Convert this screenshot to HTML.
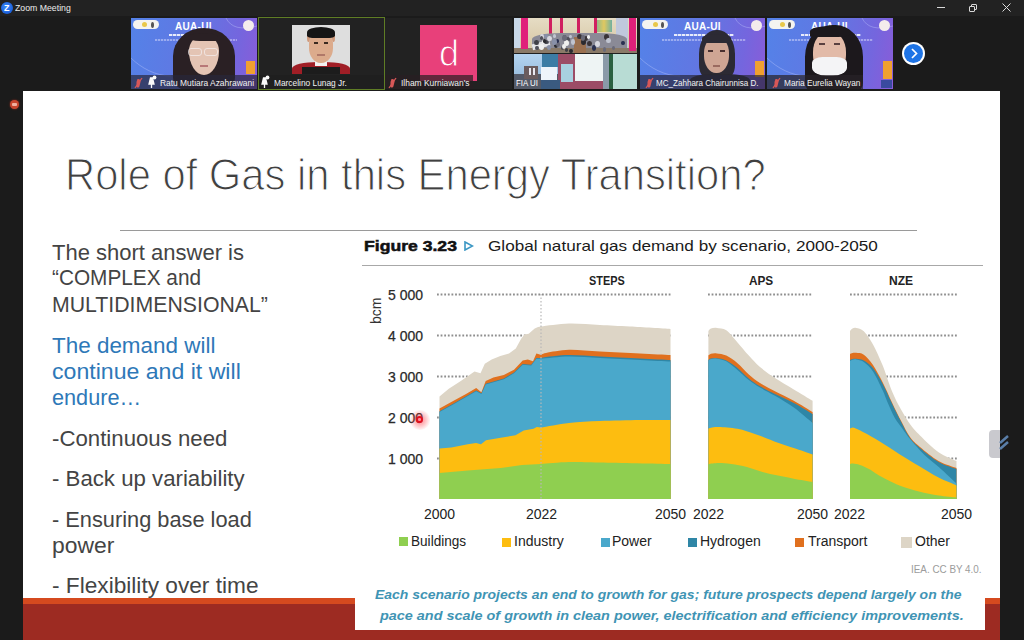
<!DOCTYPE html>
<html><head><meta charset="utf-8">
<style>
*{margin:0;padding:0;box-sizing:border-box}
html,body{width:1024px;height:640px;overflow:hidden;background:#1b1b1b;font-family:"Liberation Sans",sans-serif;position:relative}
.a{position:absolute}
.t{position:absolute;white-space:nowrap;line-height:1}
.sx{transform-origin:0 0}
.tile{position:absolute;overflow:hidden}
.aua{background:linear-gradient(100deg,#5482e8 0%,#6276e2 50%,#7466de 80%,#8a5cd8 100%)}
.nb{position:absolute;left:0;bottom:0;height:14px;background:rgba(30,30,40,0.62)}
.nm{position:absolute;top:2px;font-size:9.6px;color:#f2f2f2;white-space:nowrap;line-height:1}
</style></head>
<body>
<!-- title bar -->
<div class="a" style="left:0;top:0;width:1024px;height:16px;background:#222222"></div>
<div class="a" style="left:1px;top:2px;width:12px;height:12px;border-radius:50%;background:radial-gradient(circle at 45% 40%,#3c8cff,#1b5fd8 70%,#123e9a)"></div>
<div class="t" style="left:4px;top:3.5px;font-size:9px;font-weight:bold;color:#fff">Z</div>
<div class="t" style="left:14.5px;top:3.8px;font-size:9.2px;color:#ececec;transform:scaleX(0.95);transform-origin:0 0">Zoom Meeting</div>
<div class="a" style="left:937px;top:7px;width:8px;height:1px;background:#d8d8d8"></div>
<div class="a" style="left:971px;top:4px;width:6px;height:6px;border:1px solid #d8d8d8;border-radius:1px"></div>
<div class="a" style="left:969px;top:6px;width:6px;height:6px;border:1px solid #d8d8d8;border-radius:1px;background:#222"></div>
<svg class="a" style="left:1002px;top:3px" width="9" height="9"><path d="M0.5,0.5 L8.5,8.5 M8.5,0.5 L0.5,8.5" stroke="#dcdcdc" stroke-width="1"/></svg>

<!-- video strip -->
<div class="a" style="left:0;top:16px;width:1024px;height:75px;background:#1b1b1b"></div>

<!-- tile 1 Ratu -->
<div class="tile aua" style="left:131px;top:18px;width:126px;height:71px">
  <svg class="a" style="left:0;top:0" width="126" height="71"><path d="M0,40 C10,50 25,58 40,58" stroke="rgba(200,210,255,0.35)" fill="none" stroke-width="1"/><path d="M95,0 C100,10 110,12 126,8" stroke="rgba(200,210,255,0.35)" fill="none" stroke-width="1"/></svg>
  <div class="a" style="left:2px;top:2px;width:26px;height:9px;border-radius:5px;background:#f4f4f0"></div>
  <div class="a" style="left:11px;top:4px;width:5px;height:5px;border-radius:50%;background:#e8c84a"></div>
  <div class="a" style="left:20px;top:3.5px;width:3px;height:6px;border-radius:50%;background:#555"></div>
  <div class="a" style="left:112px;top:2px;width:11px;height:11px;border-radius:50%;background:#f4ecec"></div>
  <div class="t" style="left:44px;top:4px;font-size:10px;font-weight:bold;color:#fff;letter-spacing:0.3px">AUA-UI</div>
  <div class="a" style="left:38px;top:16px;width:50px;height:2px;background:repeating-linear-gradient(90deg,rgba(255,255,255,0.85) 0 3px,rgba(255,255,255,0.3) 3px 4px)"></div>
  <div class="a" style="left:24px;top:21px;width:82px;height:2px;background:repeating-linear-gradient(90deg,rgba(230,230,255,0.45) 0 2px,rgba(230,230,255,0.1) 2px 3px)"></div>
  <div class="a" style="left:115px;top:43px;width:9px;height:13px;background:#f0a030"></div>
  <div class="a" style="left:42px;top:10px;width:62px;height:62px;border-radius:50% 50% 22% 22% / 45% 45% 20% 20%;background:#2a2024"></div>
  <div class="a" style="left:58px;top:17px;width:30px;height:40px;border-radius:48% 48% 50% 50% / 40% 40% 60% 60%;background:#e4c4b4"></div>
  <div class="a" style="left:57px;top:15px;width:30px;height:8px;border-radius:50% 50% 10% 40%;background:#2a2024"></div>
  <div class="a" style="left:57px;top:30px;width:14px;height:8px;border-radius:3px;border:1px solid rgba(245,240,240,0.7)"></div>
  <div class="a" style="left:73px;top:30px;width:14px;height:8px;border-radius:3px;border:1px solid rgba(245,240,240,0.7)"></div>
  <div class="a" style="left:69px;top:47px;width:8px;height:2px;background:#b87878"></div>
  <div class="nb" style="width:126px;background:rgba(40,38,58,0.7)"></div>
  <svg class="a" style="left:0;top:57px" width="30" height="15"><path d="M6.5,4 C8.5,3.5 10,5 9.5,7 L8.5,11 C8,13 5.5,13 5.5,11 L5.5,7 Z" fill="#d85858"/><path d="M4,13 L11,3" stroke="#d85858" stroke-width="1.3"/><path d="M19.5,3 L21.5,3 L23,9 L18,9 Z M20.5,9 L20.5,13" fill="#fafafa" stroke="#fafafa" stroke-width="1.3"/><circle cx="23.5" cy="2.5" r="1.9" fill="#fafafa"/></svg>
  <div class="nm" style="transform:scaleX(0.877);transform-origin:0 0;left:29px;top:60px">Ratu Mutiara Azahrawani</div>
</div>

<!-- tile 2 Marcelino -->
<div class="tile" style="left:258px;top:17px;width:127px;height:73px;border:1.5px solid #5f7d25;background:#222"></div>
<div class="tile" style="left:292px;top:25px;width:58px;height:49px;background:#dedede">
  <div class="a" style="left:0;top:37px;width:58px;height:14px;border-radius:45% 45% 0 0;background:#a01e26"></div>
  <div class="a" style="left:10px;top:42px;width:38px;height:8px;background:#1c1c1c"></div>
  <div class="a" style="left:23px;top:35px;width:12px;height:6px;background:#f2f2f2"></div>
  <div class="a" style="left:15px;top:9px;width:3px;height:8px;border-radius:50%;background:#cf9a7c"></div>
  <div class="a" style="left:40px;top:9px;width:3px;height:8px;border-radius:50%;background:#cf9a7c"></div>
  <div class="a" style="left:17px;top:6px;width:24px;height:32px;border-radius:42% 42% 48% 48%;background:#dcab8c"></div>
  <div class="a" style="left:15px;top:2px;width:28px;height:11px;border-radius:50% 50% 20% 20%;background:#151515"></div>
  <div class="a" style="left:22px;top:17px;width:4px;height:1.5px;background:#3a2a20"></div>
  <div class="a" style="left:32px;top:17px;width:4px;height:1.5px;background:#3a2a20"></div>
  <div class="a" style="left:25px;top:29px;width:8px;height:1.5px;background:#b07868"></div>
</div>
<div class="a" style="left:259px;top:75px;width:125px;height:14px;background:rgba(30,30,30,0.55)"></div>
<svg class="a" style="left:244px;top:75px" width="30" height="15"><path d="M19.5,3 L21.5,3 L23,9 L18,9 Z M20.5,9 L20.5,13" fill="#fafafa" stroke="#fafafa" stroke-width="1.3"/><circle cx="23.5" cy="2.5" r="1.9" fill="#fafafa"/></svg>
<div class="nm" style="transform:scaleX(0.87);transform-origin:0 0;left:274px;top:78px">Marcelino Lunag Jr.</div>

<!-- tile 3 Ilham -->
<div class="tile" style="left:385px;top:18px;width:127px;height:71px;background:#222"></div>
<div class="a" style="left:420px;top:25px;width:57px;height:56px;background:#e8407a"></div>
<div class="t" style="left:439px;top:35.5px;font-size:36px;color:#fff;-webkit-text-stroke:0.9px #e8407a">d</div>
<div class="a" style="left:385px;top:75px;width:88px;height:14px;background:rgba(40,30,34,0.7)"></div>
<svg class="a" style="left:385px;top:75px" width="14" height="15"><path d="M6.5,4 C8.5,3.5 10,5 9.5,7 L8.5,11 C8,13 5.5,13 5.5,11 L5.5,7 Z" fill="#d85858"/><path d="M4,13 L11,3" stroke="#d85858" stroke-width="1.3"/></svg>
<div class="nm" style="transform:scaleX(0.877);transform-origin:0 0;left:401px;top:78px">Ilham Kurniawan's</div>

<!-- tile 4 FIA UI -->
  <div class="tile" style="left:514px;top:18px;width:123px;height:71px;background:#202020">
  <div class="a" style="left:0;top:0;width:123px;height:35px;background:linear-gradient(#e6dcc4,#d4c4a0)"></div>
  <div class="a" style="left:0;top:0;width:6px;height:35px;background:#c8d8e8"></div>
  <div class="a" style="left:82px;top:2px;width:16px;height:12px;background:linear-gradient(90deg,#8ab890,#e0c860,#70b0a0)"></div>
  <div class="a" style="left:102px;top:0;width:12px;height:32px;background:#c0c8dc"></div>
  <div class="a" style="left:35px;top:0;width:3px;height:18px;background:#d02060"></div>
  <div class="a" style="left:46px;top:0;width:3px;height:18px;background:#d02060"></div>
  <div class="a" style="left:63px;top:0;width:3px;height:18px;background:#d02060"></div>
  <div class="a" style="left:80px;top:0;width:3px;height:18px;background:#d02060"></div>
  <div class="a" style="left:18px;top:15px;width:95px;height:20px;border-radius:30% 30% 0 0;background:#8a8a96"></div>
  <div class="a" style="left:0px;top:30px;width:123px;height:5px;background:#8a7a68"></div>
  <div class="a" style="left:7px;top:0;width:7px;height:31px;background:#e0207a"></div>
  <div class="a" style="left:115px;top:0;width:7px;height:33px;background:#e0207a"></div>
  <div class="a" style="left:18px;top:24px;width:18px;height:6px;background:#e4e4e8;transform:rotate(-15deg)"></div>
  <div class="a" style="left:60px;top:19px;width:12px;height:16px;background:#9a7050"></div>
  <div class="a" style="left:48.5px;top:17.4px;width:3.1px;height:3.8px;border-radius:50%;background:#2a2a30"></div>
  <div class="a" style="left:67.2px;top:20.9px;width:4.8px;height:5.8px;border-radius:50%;background:#2a2a30"></div>
  <div class="a" style="left:38.9px;top:16.4px;width:3.1px;height:3.8px;border-radius:50%;background:#c0c4d0"></div>
  <div class="a" style="left:28.0px;top:21.8px;width:3.2px;height:3.9px;border-radius:50%;background:#f0f0f0"></div>
  <div class="a" style="left:39.6px;top:25.0px;width:4.2px;height:5.0px;border-radius:50%;background:#2a2a30"></div>
  <div class="a" style="left:54.9px;top:30.6px;width:4.1px;height:4.9px;border-radius:50%;background:#2a2a30"></div>
  <div class="a" style="left:31.7px;top:21.7px;width:3.2px;height:3.9px;border-radius:50%;background:#6a6a78"></div>
  <div class="a" style="left:47.1px;top:28.1px;width:3.2px;height:3.8px;border-radius:50%;background:#50505a"></div>
  <div class="a" style="left:70.3px;top:18.0px;width:4.1px;height:4.9px;border-radius:50%;background:#3a3438"></div>
  <div class="a" style="left:25.5px;top:16.0px;width:4.0px;height:4.8px;border-radius:50%;background:#d8d8e0"></div>
  <div class="a" style="left:51.8px;top:19.0px;width:4.4px;height:5.3px;border-radius:50%;background:#50505a"></div>
  <div class="a" style="left:41.5px;top:24.2px;width:4.0px;height:4.8px;border-radius:50%;background:#6a6a78"></div>
  <div class="a" style="left:50.2px;top:22.2px;width:5.0px;height:6.0px;border-radius:50%;background:#f0f0f0"></div>
  <div class="a" style="left:30.4px;top:21.7px;width:3.3px;height:4.0px;border-radius:50%;background:#404048"></div>
  <div class="a" style="left:63.0px;top:15.6px;width:4.5px;height:5.4px;border-radius:50%;background:#3a3438"></div>
  <div class="a" style="left:47.6px;top:26.1px;width:4.0px;height:4.8px;border-radius:50%;background:#f0f0f0"></div>
  <div class="a" style="left:90.1px;top:16.1px;width:4.9px;height:5.9px;border-radius:50%;background:#3a3438"></div>
  <div class="a" style="left:25.3px;top:26.2px;width:5.0px;height:6.0px;border-radius:50%;background:#f0f0f0"></div>
  <div class="a" style="left:92.3px;top:19.6px;width:4.8px;height:5.7px;border-radius:50%;background:#c0c4d0"></div>
  <div class="a" style="left:50.5px;top:30.1px;width:3.3px;height:4.0px;border-radius:50%;background:#404048"></div>
  <div class="a" style="left:30.3px;top:15.9px;width:3.3px;height:3.9px;border-radius:50%;background:#8890a8"></div>
  <div class="a" style="left:41.8px;top:21.3px;width:3.2px;height:3.8px;border-radius:50%;background:#2a3050"></div>
  <div class="a" style="left:97.7px;top:28.1px;width:3.6px;height:4.3px;border-radius:50%;background:#6a6a78"></div>
  <div class="a" style="left:56.5px;top:20.7px;width:4.9px;height:5.9px;border-radius:50%;background:#c0c4d0"></div>
  <div class="a" style="left:33.3px;top:17.8px;width:4.3px;height:5.2px;border-radius:50%;background:#d8d8e0"></div>
  <div class="a" style="left:21.1px;top:28.3px;width:3.5px;height:4.2px;border-radius:50%;background:#50505a"></div>
  <div class="a" style="left:20.4px;top:21.7px;width:4.2px;height:5.1px;border-radius:50%;background:#404048"></div>
  <div class="a" style="left:48.0px;top:17.0px;width:4.9px;height:5.9px;border-radius:50%;background:#6a6a78"></div>
  <div class="a" style="left:77.6px;top:26.8px;width:4.8px;height:5.8px;border-radius:50%;background:#2a3050"></div>
  <div class="a" style="left:88.6px;top:29.0px;width:3.8px;height:4.5px;border-radius:50%;background:#6a6a78"></div>
  <div class="a" style="left:55.1px;top:16.7px;width:3.1px;height:3.7px;border-radius:50%;background:#c0c4d0"></div>
  <div class="a" style="left:25.9px;top:18.3px;width:3.2px;height:3.9px;border-radius:50%;background:#50505a"></div>
  <div class="a" style="left:72.9px;top:16.6px;width:3.3px;height:4.0px;border-radius:50%;background:#f0f0f0"></div>
  <div class="a" style="left:28.9px;top:20.8px;width:3.1px;height:3.8px;border-radius:50%;background:#2a2a30"></div>
  <div class="a" style="left:38.3px;top:21.0px;width:4.9px;height:5.9px;border-radius:50%;background:#8890a8"></div>
  <div class="a" style="left:73.0px;top:22.6px;width:4.7px;height:5.6px;border-radius:50%;background:#3a3438"></div>
  <div class="a" style="left:107.4px;top:22.5px;width:3.6px;height:4.3px;border-radius:50%;background:#2a3050"></div>
  <div class="a" style="left:32.7px;top:27.0px;width:4.0px;height:4.7px;border-radius:50%;background:#8890a8"></div>
  <div class="a" style="left:80.9px;top:23.3px;width:4.9px;height:5.9px;border-radius:50%;background:#d8d8e0"></div>
  <div class="a" style="left:66.5px;top:17.3px;width:4.8px;height:5.8px;border-radius:50%;background:#6a6a78"></div>
  <div class="a" style="left:0;top:36px;width:123px;height:35px;background:#9c4c66"></div>
  <div class="a" style="left:0;top:36px;width:44px;height:21px;background:linear-gradient(#b4d4f0,#9cc0e0)"></div>
  <div class="a" style="left:28px;top:36px;width:16px;height:13px;background:#3c7ca4"></div>
  <div class="a" style="left:0;top:56px;width:44px;height:15px;background:#545a68"></div>
  <div class="a" style="left:10px;top:48px;width:14px;height:13px;background:#6a5c5e"></div>
  <div class="a" style="left:15px;top:50px;width:2px;height:7px;background:#e8e8f0"></div>
  <div class="a" style="left:19px;top:50px;width:2px;height:7px;background:#e8e8f0"></div>
  <div class="a" style="left:27px;top:49px;width:16px;height:13px;background:#eef4fa"></div>
  <div class="a" style="left:27px;top:62px;width:19px;height:9px;background:#3a5a80"></div>
  <div class="a" style="left:47px;top:46px;width:12px;height:18px;background:#a8d0e0"></div>
  <div class="a" style="left:61px;top:36px;width:28px;height:27px;background:#eef4f4"></div>
  <div class="a" style="left:89px;top:36px;width:14px;height:35px;background:#8a9aa8"></div>
  <div class="a" style="left:98px;top:36px;width:25px;height:35px;background:#b8dcd4"></div>
  <div class="a" style="left:95px;top:36px;width:4px;height:35px;background:#2a6040"></div>
  <div class="nm" style="transform:scaleX(0.82);transform-origin:0 0;left:2px;top:60px;color:#fff">FIA UI</div>
</div>

<!-- tile 5 Zahhara -->
<div class="tile aua" style="left:640px;top:18px;width:125px;height:71px">
  <svg class="a" style="left:0;top:0" width="126" height="71"><path d="M0,40 C10,50 25,58 40,58" stroke="rgba(200,210,255,0.35)" fill="none" stroke-width="1"/><path d="M95,0 C100,10 110,12 126,8" stroke="rgba(200,210,255,0.35)" fill="none" stroke-width="1"/></svg>
  <div class="a" style="left:2px;top:2px;width:26px;height:9px;border-radius:5px;background:#f4f4f0"></div>
  <div class="a" style="left:13px;top:4px;width:5px;height:5px;border-radius:50%;background:#e8c84a"></div>
  <div class="a" style="left:21px;top:3.5px;width:3px;height:6px;border-radius:50%;background:#555"></div>
  <div class="a" style="left:111px;top:2px;width:11px;height:11px;border-radius:50%;background:#f4ecec"></div>
  <div class="t" style="left:44px;top:4px;font-size:10px;font-weight:bold;color:#fff;letter-spacing:0.3px">AUA-UI</div>
  <div class="a" style="left:34px;top:16px;width:60px;height:2px;background:repeating-linear-gradient(90deg,rgba(255,255,255,0.85) 0 3px,rgba(255,255,255,0.3) 3px 4px)"></div>
  <div class="a" style="left:22px;top:21px;width:84px;height:2px;background:repeating-linear-gradient(90deg,rgba(230,230,255,0.45) 0 2px,rgba(230,230,255,0.1) 2px 3px)"></div>
  <div class="a" style="left:115px;top:43px;width:9px;height:16px;background:#f0a030"></div>
  <div class="a" style="left:59px;top:12px;width:36px;height:50px;border-radius:48% 48% 30% 30%;background:#2c2a34"></div>
  <div class="a" style="left:64px;top:19px;width:25px;height:36px;border-radius:45% 45% 48% 48%;background:#cfa594"></div>
  <div class="a" style="left:62px;top:16px;width:29px;height:9px;border-radius:50% 50% 20% 20%;background:#2c2a34"></div>
  <div class="a" style="left:68px;top:32px;width:5px;height:1.5px;background:#4a3030"></div>
  <div class="a" style="left:80px;top:32px;width:5px;height:1.5px;background:#4a3030"></div>
  <div class="a" style="left:73px;top:47px;width:7px;height:1.5px;background:#9a6a60"></div>
  <div class="a" style="left:50px;top:56px;width:60px;height:15px;border-radius:40% 40% 0 0;background:#2a2830"></div>
  <div class="nb" style="width:125px;background:rgba(40,38,58,0.7)"></div>
  <svg class="a" style="left:2px;top:57px" width="14" height="15"><path d="M6.5,4 C8.5,3.5 10,5 9.5,7 L8.5,11 C8,13 5.5,13 5.5,11 L5.5,7 Z" fill="#d85858"/><path d="M4,13 L11,3" stroke="#d85858" stroke-width="1.3"/></svg>
  <div class="nm" style="transform:scaleX(0.84);transform-origin:0 0;left:16px;top:60px">MC_Zahhara Chairunnisa D.</div>
</div>

<!-- tile 6 Maria -->
<div class="tile aua" style="left:767px;top:18px;width:126px;height:71px">
  <svg class="a" style="left:0;top:0" width="126" height="71"><path d="M0,40 C10,50 25,58 40,58" stroke="rgba(200,210,255,0.35)" fill="none" stroke-width="1"/><path d="M95,0 C100,10 110,12 126,8" stroke="rgba(200,210,255,0.35)" fill="none" stroke-width="1"/></svg>
  <div class="a" style="left:2px;top:2px;width:26px;height:9px;border-radius:5px;background:#f4f4f0"></div>
  <div class="a" style="left:13px;top:4px;width:5px;height:5px;border-radius:50%;background:#e8c84a"></div>
  <div class="a" style="left:21px;top:3.5px;width:3px;height:6px;border-radius:50%;background:#555"></div>
  <div class="a" style="left:112px;top:2px;width:11px;height:11px;border-radius:50%;background:#f4ecec"></div>
  <div class="t" style="left:44px;top:4px;font-size:10px;font-weight:bold;color:#fff;letter-spacing:0.3px">AUA-UI</div>
  <div class="a" style="left:34px;top:16px;width:60px;height:2px;background:repeating-linear-gradient(90deg,rgba(255,255,255,0.85) 0 3px,rgba(255,255,255,0.3) 3px 4px)"></div>
  <div class="a" style="left:22px;top:21px;width:84px;height:2px;background:repeating-linear-gradient(90deg,rgba(230,230,255,0.45) 0 2px,rgba(230,230,255,0.1) 2px 3px)"></div>
  <div class="a" style="left:116px;top:43px;width:9px;height:18px;background:#f0a030"></div>
  <div class="a" style="left:114px;top:62px;width:11px;height:8px;background:#3a4aa0"></div>
  <div class="a" style="left:38px;top:7px;width:58px;height:66px;border-radius:48% 48% 12% 12%;background:#1c181c"></div>
  <div class="a" style="left:46px;top:14px;width:33px;height:44px;border-radius:45% 45% 48% 48%;background:#e2baa8"></div>
  <div class="a" style="left:43px;top:8px;width:40px;height:11px;border-radius:50% 50% 30% 10%;background:#1c181c"></div>
  <div class="a" style="left:52px;top:25px;width:6px;height:2px;background:#5a4040"></div>
  <div class="a" style="left:67px;top:25px;width:6px;height:2px;background:#5a4040"></div>
  <div class="a" style="left:45px;top:39px;width:35px;height:19px;border-radius:30% 30% 45% 45%;background:#f4f4f6"></div>
  <div class="nb" style="width:96px;background:rgba(40,34,40,0.72)"></div>
  <svg class="a" style="left:2px;top:57px" width="14" height="15"><path d="M6.5,4 C8.5,3.5 10,5 9.5,7 L8.5,11 C8,13 5.5,13 5.5,11 L5.5,7 Z" fill="#d85858"/><path d="M4,13 L11,3" stroke="#d85858" stroke-width="1.3"/></svg>
  <div class="nm" style="transform:scaleX(0.862);transform-origin:0 0;left:17px;top:60px">Maria Eurelia Wayan</div>
</div>

<!-- next arrow -->
<div class="a" style="left:902px;top:42px;width:23px;height:23px;border-radius:50%;background:#fff"></div>
<div class="a" style="left:904px;top:44px;width:19px;height:19px;border-radius:50%;background:#1e74e6"></div>
<svg class="a" style="left:908px;top:47px" width="12" height="13"><path d="M4,2 L8.5,6.5 L4,11" stroke="#fff" stroke-width="1.7" fill="none"/></svg>


<!-- record dot -->
<div class="a" style="left:10px;top:100px;width:9px;height:9px;border-radius:50%;background:#c8452e;box-shadow:0 0 2px #a03020"></div>
<div class="a" style="left:12px;top:103px;width:5px;height:3px;background:#f0b0a0;border-radius:1px"></div>

<!-- slide -->
<div class="a" style="left:23px;top:91px;width:977px;height:549px;background:#fff"></div>
<div class="t sx" style="left:64.5px;top:152px;font-size:45px;color:#404040;-webkit-text-stroke:1.2px #fff;transform:scaleX(0.9275)">Role of Gas in this Energy Transition?</div>

<div class="t" style="left:52px;top:241.7px;font-size:22px;color:#444">The short answer is</div>
<div class="t sx" style="transform:scaleX(0.945);left:52px;top:267.1px;font-size:22px;color:#444">&#8220;COMPLEX and</div>
<div class="t sx" style="transform:scaleX(0.967);left:52px;top:293.5px;font-size:22px;color:#444">MULTIDIMENSIONAL&#8221;</div>
<div class="t sx" style="transform:scaleX(1.02);left:52px;top:334.9px;font-size:22px;color:#2e78b8">The demand will</div>
<div class="t sx" style="transform:scaleX(1.05);left:52px;top:360.5px;font-size:22px;color:#2e78b8">continue and it will</div>
<div class="t sx" style="transform:scaleX(0.985);left:52px;top:387.4px;font-size:22px;color:#2e78b8">endure&#8230;</div>
<div class="t sx" style="transform:scaleX(1.01);left:52px;top:427.6px;font-size:22px;color:#444">-Continuous need</div>
<div class="t sx" style="transform:scaleX(1.01);left:52px;top:468.0px;font-size:22px;color:#444">- Back up variability</div>
<div class="t sx" style="transform:scaleX(0.99);left:52px;top:508.8px;font-size:22px;color:#444">- Ensuring base load</div>
<div class="t sx" style="transform:scaleX(1.04);left:52px;top:535.2px;font-size:22px;color:#444">power</div>
<div class="t sx" style="transform:scaleX(1.03);left:52px;top:574.7px;font-size:22px;color:#444">- Flexibility over time</div>

<!-- red band -->
<div class="a" style="left:23px;top:598px;width:977px;height:6px;background:#d54a1f"></div>
<div class="a" style="left:23px;top:604px;width:977px;height:36px;background:#9d2b22"></div>

<!-- chart image -->
<div class="a" style="left:355px;top:231px;width:630px;height:399px;background:#fff"></div>
<div class="a" style="left:120px;top:229.6px;width:797px;height:1.3px;background:#9a9a9a"></div>
<div class="a" style="left:362px;top:265px;width:621px;height:1.3px;background:#a8a8a8"></div>

<div class="t sx" style="transform:scaleX(1.206);left:364px;top:238.5px;font-size:14.6px;font-weight:bold;color:#111;-webkit-text-stroke:0.5px #111">Figure 3.23</div>
<svg class="a" style="left:464px;top:241px" width="10" height="10"><path d="M1,1 L8.5,5 L1,9 Z" fill="none" stroke="#3b97c4" stroke-width="1.6"/></svg>
<div class="t sx" style="transform:scaleX(1.175);left:488px;top:238.5px;font-size:14.6px;color:#1a1a1a">Global natural gas demand by scenario, 2000-2050</div>

<div class="t sx" style="transform:scaleX(0.836);left:589px;top:274px;font-size:13px;font-weight:bold;color:#222">STEPS</div>
<div class="t sx" style="transform:scaleX(0.906);left:749px;top:274px;font-size:13px;font-weight:bold;color:#222">APS</div>
<div class="t sx" style="transform:scaleX(0.927);left:889px;top:274px;font-size:13px;font-weight:bold;color:#222">NZE</div>

<div class="t" style="left:369px;top:324px;font-size:14px;color:#333;transform:rotate(-90deg);transform-origin:0 0">bcm</div>
<div class="t" style="left:388px;top:287.1px;font-size:14px;color:#2a2a2a;-webkit-text-stroke:0.25px #2a2a2a;transform:translateY(1px);transform-origin:0 0">5 000</div>
<div class="t" style="left:388px;top:328.1px;font-size:14px;color:#2a2a2a;-webkit-text-stroke:0.25px #2a2a2a;transform:translateY(1px);transform-origin:0 0">4 000</div>
<div class="t" style="left:388px;top:369.1px;font-size:14px;color:#2a2a2a;-webkit-text-stroke:0.25px #2a2a2a;transform:translateY(1px);transform-origin:0 0">3 000</div>
<div class="t" style="left:388px;top:410.1px;font-size:14px;color:#2a2a2a;-webkit-text-stroke:0.25px #2a2a2a;transform:translateY(1px);transform-origin:0 0">2 000</div>
<div class="t" style="left:388px;top:451.1px;font-size:14px;color:#2a2a2a;-webkit-text-stroke:0.25px #2a2a2a;transform:translateY(1px);transform-origin:0 0">1 000</div>

<svg class="a" style="left:0;top:0" width="1024" height="640">
<line x1="437" y1="294.5" x2="671" y2="294.5" stroke="#8e8e8e" stroke-width="1.8" stroke-dasharray="1.8 1.82"/>
<line x1="708" y1="294.5" x2="812" y2="294.5" stroke="#8e8e8e" stroke-width="1.8" stroke-dasharray="1.8 1.82"/>
<line x1="850" y1="294.5" x2="957" y2="294.5" stroke="#8e8e8e" stroke-width="1.8" stroke-dasharray="1.8 1.82"/>
<line x1="437" y1="335.5" x2="671" y2="335.5" stroke="#8e8e8e" stroke-width="1.8" stroke-dasharray="1.8 1.82"/>
<line x1="708" y1="335.5" x2="812" y2="335.5" stroke="#8e8e8e" stroke-width="1.8" stroke-dasharray="1.8 1.82"/>
<line x1="850" y1="335.5" x2="957" y2="335.5" stroke="#8e8e8e" stroke-width="1.8" stroke-dasharray="1.8 1.82"/>
<line x1="437" y1="376.5" x2="671" y2="376.5" stroke="#8e8e8e" stroke-width="1.8" stroke-dasharray="1.8 1.82"/>
<line x1="708" y1="376.5" x2="812" y2="376.5" stroke="#8e8e8e" stroke-width="1.8" stroke-dasharray="1.8 1.82"/>
<line x1="850" y1="376.5" x2="957" y2="376.5" stroke="#8e8e8e" stroke-width="1.8" stroke-dasharray="1.8 1.82"/>
<line x1="437" y1="417.5" x2="671" y2="417.5" stroke="#8e8e8e" stroke-width="1.8" stroke-dasharray="1.8 1.82"/>
<line x1="708" y1="417.5" x2="812" y2="417.5" stroke="#8e8e8e" stroke-width="1.8" stroke-dasharray="1.8 1.82"/>
<line x1="850" y1="417.5" x2="957" y2="417.5" stroke="#8e8e8e" stroke-width="1.8" stroke-dasharray="1.8 1.82"/>
<line x1="437" y1="458.5" x2="671" y2="458.5" stroke="#8e8e8e" stroke-width="1.8" stroke-dasharray="1.8 1.82"/>
<line x1="708" y1="458.5" x2="812" y2="458.5" stroke="#8e8e8e" stroke-width="1.8" stroke-dasharray="1.8 1.82"/>
<line x1="850" y1="458.5" x2="957" y2="458.5" stroke="#8e8e8e" stroke-width="1.8" stroke-dasharray="1.8 1.82"/>
<path d="M439.5,396.5 L448.8,388.8 L460.8,381.0 L474.5,371.6 L480.5,373.3 L484.8,363.8 L491.7,359.5 L500.3,356.0 L509.0,353.5 L515.8,348.4 L521.0,339.0 L524.4,334.6 L528.7,333.8 L534.7,328.6 L538.1,326.9 L541.0,326.5  C545.7,326.0 559.2,323.9 569.0,323.6 C578.8,323.4 589.8,324.5 600.0,325.0 C610.2,325.5 618.2,325.9 630.0,326.5 C641.8,327.1 663.8,328.5 670.5,328.9 L670.5,499 L439.5,499 Z" fill="#ddd5c6"/>
<path d="M439.5,408.5 L452.2,401.6 L466.0,394.0 L476.2,387.9 L481.4,392.2 L485.7,381.0 L493.4,377.6 L503.8,375.0 L514.0,369.8 L522.7,360.4 L527.8,359.5 L533.0,361.2 L536.4,353.5 L539.8,354.4 L541.0,355.0  C541.8,354.7 541.3,353.9 546.0,353.0 C550.7,352.1 560.0,350.1 569.0,349.8 C578.0,349.6 588.2,350.9 600.0,351.5 C611.8,352.1 628.2,352.9 640.0,353.5 C651.8,354.1 665.4,354.8 670.5,355.0 L670.5,499 L439.5,499 Z" fill="#e0701e"/>
<path d="M439.5,411.2 L452.2,404.2 L476.2,390.5 L481.4,393.2 L485.7,383.7 L503.8,378.5 L514.0,372.5 L522.7,363.9 L531.2,364.7 L536.4,357.9 L541.0,357.9  C545.7,356.8 559.2,355.0 569.0,354.9 C578.8,354.8 588.2,355.9 600.0,356.5 C611.8,357.1 628.2,357.9 640.0,358.5 C651.8,359.1 665.4,359.8 670.5,360.1 L670.5,499 L439.5,499 Z" fill="#2f86a6"/>
<path d="M439.5,412.0 L452.2,405.0 L476.2,391.3 L481.4,394.0 L485.7,384.5 L503.8,379.3 L514.0,373.3 L522.7,364.7 L531.2,365.5 L536.4,358.7 L541.0,358.7  C545.7,358.3 559.2,356.5 569.0,356.4 C578.8,356.3 588.2,357.4 600.0,358.0 C611.8,358.6 628.2,359.4 640.0,360.0 C651.8,360.6 665.4,361.3 670.5,361.6 L670.5,499 L439.5,499 Z" fill="#4aa8cb"/>
<path d="M439.5,448.4 L451.4,447.6 L467.8,444.3 L476.0,443.0 L481.0,444.3 L486.0,440.2 L500.7,437.8 L515.5,435.3 L523.7,430.4 L533.5,428.7 L536.8,427.0 L541.0,427.5  C545.7,426.8 559.2,424.1 569.0,423.0 C578.8,421.9 588.2,421.5 600.0,421.0 C611.8,420.5 628.2,420.2 640.0,420.0 C651.8,419.8 665.4,420.0 670.5,420.0 L670.5,499 L439.5,499 Z" fill="#fdbd10"/>
<path d="M439.5,473.0 L467.8,470.6 L500.7,468.1 L522.0,464.9 L541.0,464.0  C545.7,463.7 559.2,462.2 569.0,462.0 C578.8,461.8 583.1,462.2 600.0,462.5 C616.9,462.8 658.8,463.8 670.5,464.0 L670.5,499 L439.5,499 Z" fill="#8fcf50"/>
<line x1="541" y1="294" x2="541" y2="499" stroke="#b8b8b8" stroke-width="1.2" stroke-dasharray="1.5 2"/>
<path d="M708.4,331.0 C708.8,330.6 709.6,329.0 711.0,328.5 C712.4,328.0 714.4,327.6 716.9,327.9 C719.4,328.2 722.9,327.9 726.3,330.3 C729.7,332.7 733.8,338.3 737.5,342.5 C741.2,346.7 745.0,351.5 748.8,355.6 C752.5,359.7 755.6,363.3 760.0,367.0 C764.4,370.7 769.4,374.3 775.0,378.0 C780.6,381.7 787.5,385.6 793.8,389.4 C800.1,393.2 809.5,398.8 812.6,400.7 L812.6,499.0 L708.4,499.0 Z" fill="#ddd5c6"/>
<path d="M708.4,355.5 C708.8,355.2 709.6,354.2 711.0,353.8 C712.4,353.4 714.4,353.1 716.9,353.4 C719.4,353.7 722.9,354.0 726.3,355.6 C729.7,357.2 733.8,360.1 737.5,363.2 C741.2,366.3 745.0,371.1 748.8,374.4 C752.5,377.7 755.6,380.1 760.0,382.9 C764.4,385.7 769.4,388.3 775.0,391.3 C780.6,394.3 787.5,397.2 793.8,400.7 C800.1,404.1 809.5,410.1 812.6,412.0 L812.6,499.0 L708.4,499.0 Z" fill="#e0701e"/>
<path d="M708.4,360.0 C708.8,359.8 709.6,358.8 711.0,358.5 C712.4,358.2 714.4,358.0 716.9,358.3 C719.4,358.6 722.9,358.9 726.3,360.5 C729.7,362.1 733.8,365.0 737.5,368.0 C741.2,371.0 745.0,375.4 748.8,378.5 C752.5,381.6 755.6,383.7 760.0,386.3 C764.4,388.9 769.4,391.2 775.0,394.0 C780.6,396.8 787.5,399.7 793.8,403.0 C800.1,406.3 809.5,412.2 812.6,414.0 L812.6,499.0 L708.4,499.0 Z" fill="#2f86a6"/>
<path d="M708.4,360.6 C708.8,360.3 709.6,359.3 711.0,359.0 C712.4,358.7 714.4,358.3 716.9,358.7 C719.4,359.1 722.9,359.4 726.3,361.3 C729.7,363.2 733.8,366.9 737.5,370.0 C741.2,373.1 745.0,377.1 748.8,380.0 C752.5,382.9 755.6,384.9 760.0,387.5 C764.4,390.1 769.4,392.5 775.0,395.8 C780.6,399.1 787.5,403.0 793.8,407.5 C800.1,412.0 809.5,420.4 812.6,423.0 L812.6,499.0 L708.4,499.0 Z" fill="#4aa8cb"/>
<path d="M708.4,428.8 C708.8,428.6 709.3,428.1 711.0,427.8 C712.7,427.5 714.4,426.8 718.8,427.0 C723.2,427.2 731.2,427.6 737.5,428.8 C743.8,430.0 749.5,432.1 756.3,434.4 C763.0,436.7 771.8,440.5 778.0,442.8 C784.2,445.1 787.9,446.1 793.7,448.0 C799.5,449.9 809.5,453.3 812.6,454.4 L812.6,499.0 L708.4,499.0 Z" fill="#fdbd10"/>
<path d="M708.4,464.0 C710.1,463.8 714.9,463.0 718.7,463.0 C722.5,463.0 726.5,463.3 731.2,464.0 C735.9,464.7 741.7,465.7 746.9,467.0 C752.1,468.3 757.3,470.6 762.5,472.0 C767.7,473.4 772.8,474.5 778.0,475.6 C783.2,476.7 787.9,477.6 793.7,478.7 C799.5,479.8 809.5,481.4 812.6,481.9 L812.6,499.0 L708.4,499.0 Z" fill="#8fcf50"/>
<path d="M850.0,331.0 C850.4,330.6 851.5,329.0 852.5,328.5 C853.5,328.0 854.4,327.4 856.2,327.9 C858.1,328.4 861.0,328.5 863.8,331.2 C866.5,334.0 869.9,338.8 873.0,344.4 C876.1,350.0 879.3,357.2 882.5,365.0 C885.7,372.8 888.9,383.8 892.0,391.2 C895.1,398.8 898.2,404.4 901.3,410.0 C904.4,415.6 907.6,420.8 910.7,425.0 C913.8,429.2 915.4,430.9 920.0,435.4 C924.6,439.9 932.5,447.9 938.6,452.2 C944.7,456.5 953.5,459.5 956.5,461.0 L956.5,499.0 L850.0,499.0 Z" fill="#ddd5c6"/>
<path d="M850.0,354.0 C850.4,353.8 851.5,353.2 852.5,353.0 C853.5,352.8 854.4,352.5 856.2,352.8 C858.1,353.1 861.0,352.7 863.8,354.7 C866.5,356.7 869.9,360.4 873.0,365.0 C876.1,369.6 879.3,375.8 882.5,382.0 C885.7,388.2 888.9,395.9 892.0,402.5 C895.1,409.1 898.3,415.6 901.3,421.3 C904.3,427.1 906.9,432.7 910.0,437.0 C913.1,441.3 915.2,443.0 920.0,447.0 C924.8,451.0 932.5,457.5 938.6,461.0 C944.7,464.5 953.5,466.8 956.5,468.0 L956.5,499.0 L850.0,499.0 Z" fill="#e0701e"/>
<path d="M850.0,360.0 C850.4,359.8 851.5,359.2 852.5,359.0 C853.5,358.8 854.4,358.6 856.2,358.8 C858.1,359.1 861.0,359.0 863.8,360.5 C866.5,362.0 869.9,364.2 873.0,368.0 C876.1,371.8 879.3,377.6 882.5,383.5 C885.7,389.4 888.9,397.0 892.0,403.5 C895.1,410.0 898.3,416.6 901.3,422.3 C904.3,428.1 906.9,433.7 910.0,438.0 C913.1,442.3 915.2,444.0 920.0,448.0 C924.8,452.0 932.5,458.5 938.6,462.0 C944.7,465.5 953.5,467.8 956.5,469.0 L956.5,499.0 L850.0,499.0 Z" fill="#2f86a6"/>
<path d="M850.0,361.0 C850.4,360.8 851.5,360.1 852.5,359.8 C853.5,359.6 854.4,359.1 856.2,359.5 C858.1,359.9 861.0,360.0 863.8,362.0 C866.5,364.0 869.9,366.8 873.0,371.5 C876.1,376.2 880.1,384.9 882.5,390.0 C884.9,395.1 885.4,397.3 887.4,402.0 C889.4,406.7 892.3,413.6 894.8,418.0 C897.3,422.4 899.8,425.1 902.3,428.5 C904.8,431.9 906.0,434.1 909.7,438.5 C913.4,442.9 919.6,450.2 924.5,455.0 C929.4,459.8 934.0,462.8 939.3,467.5 C944.6,472.2 953.6,480.8 956.5,483.5 L956.5,499.0 L850.0,499.0 Z" fill="#4aa8cb"/>
<path d="M850.0,428.5 C850.5,428.3 851.8,427.4 853.0,427.5 C854.2,427.6 855.0,428.1 857.0,429.0 C859.0,429.9 861.3,431.0 865.0,433.0 C868.7,435.0 873.2,437.5 879.0,441.0 C884.8,444.5 892.8,450.0 899.5,454.2 C906.2,458.4 912.5,462.1 919.0,466.0 C925.5,469.9 932.4,474.4 938.6,477.6 C944.9,480.8 953.5,484.1 956.5,485.4 L956.5,499.0 L850.0,499.0 Z" fill="#fdbd10"/>
<path d="M850.0,464.0 C850.5,463.9 851.3,463.3 853.0,463.5 C854.7,463.7 857.2,464.0 860.0,465.0 C862.8,466.0 866.7,467.7 870.0,469.5 C873.3,471.3 875.1,473.3 880.0,476.0 C884.9,478.7 893.0,482.9 899.5,485.5 C906.0,488.1 912.5,489.8 919.0,491.5 C925.5,493.2 932.4,494.5 938.6,495.5 C944.9,496.5 953.5,497.2 956.5,497.5 L956.5,499.0 L850.0,499.0 Z" fill="#8fcf50"/>
</svg>

<div class="t" style="left:424px;top:507px;font-size:14px;color:#222">2000</div>
<div class="t" style="left:526px;top:507px;font-size:14px;color:#222">2022</div>
<div class="t" style="left:655px;top:507px;font-size:14px;color:#222">2050</div>
<div class="t" style="left:693px;top:507px;font-size:14px;color:#222">2022</div>
<div class="t" style="left:797px;top:507px;font-size:14px;color:#222">2050</div>
<div class="t" style="left:834px;top:507px;font-size:14px;color:#222">2022</div>
<div class="t" style="left:941px;top:507px;font-size:14px;color:#222">2050</div>

<div class="a" style="left:399px;top:537px;width:9px;height:9px;background:#8fcf50"></div>
<div class="t sx" style="transform:scaleX(0.97);left:411px;top:534px;font-size:14px;color:#222">Buildings</div>
<div class="a" style="left:502px;top:537.5px;width:9px;height:9px;background:#fdbd10"></div>
<div class="t" style="left:514px;top:534px;font-size:14px;color:#222">Industry</div>
<div class="a" style="left:601px;top:537.5px;width:9px;height:9px;background:#4aa8cb"></div>
<div class="t" style="left:612px;top:534px;font-size:14px;color:#222">Power</div>
<div class="a" style="left:688px;top:537.5px;width:9px;height:9px;background:#2f86a6"></div>
<div class="t" style="left:700px;top:534px;font-size:14px;color:#222">Hydrogen</div>
<div class="a" style="left:795px;top:537.5px;width:9px;height:9px;background:#e0701e"></div>
<div class="t" style="left:808px;top:534px;font-size:14px;color:#222">Transport</div>
<div class="a" style="left:901px;top:537px;width:11px;height:11px;background:#ddd5c6"></div>
<div class="t" style="left:915px;top:534px;font-size:14px;color:#222">Other</div>

<div class="t sx" style="transform:scaleX(0.94);left:911px;top:564px;font-size:10.5px;color:#9c9c9c">IEA. CC BY 4.0.</div>

<div class="t sx" style="transform:scaleX(1.05);left:375px;top:588px;font-size:13.3px;font-weight:bold;font-style:italic;color:#3f94b4">Each scenario projects an end to growth for gas; future prospects depend largely on the</div>
<div class="t sx" style="transform:scaleX(1.084);left:380px;top:609px;font-size:13.3px;font-weight:bold;font-style:italic;color:#3f94b4">pace and scale of growth in clean power, electrification and efficiency improvements.</div>

<!-- cursor dot -->
<div class="a" style="left:409.5px;top:409.5px;width:20px;height:20px;border-radius:50%;background:radial-gradient(circle,rgba(255,40,50,0.55) 0,rgba(255,60,70,0.35) 35%,rgba(255,120,120,0.12) 65%,rgba(255,160,160,0) 100%)"></div>
<div class="a" style="left:415.8px;top:415.8px;width:7.4px;height:7.4px;border-radius:50%;background:#e2101e"></div>
<div class="a" style="left:418.3px;top:418.3px;width:2.6px;height:2.6px;border-radius:50%;background:#ff8a96"></div>
<!-- annotation tab -->
<div class="a" style="left:989px;top:430px;width:14px;height:28px;border-radius:4px;background:#c9c9ce"></div>
<div class="a" style="left:1000px;top:91px;width:24px;height:549px;background:#1b1b1b"></div>
<svg class="a" style="left:998px;top:434px" width="14" height="20"><path d="M2,9 L10,2 M2,15 L10,8" stroke="#5a7ea8" stroke-width="2.5"/></svg>
</body></html>
